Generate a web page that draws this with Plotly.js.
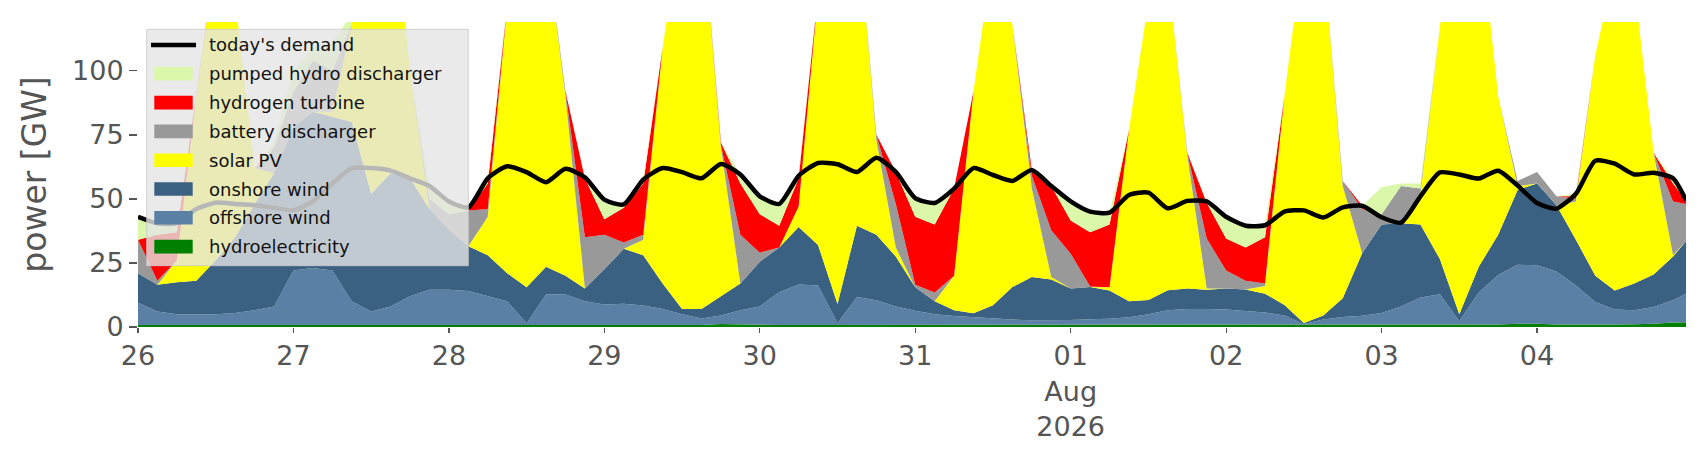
<!DOCTYPE html>
<html>
<head>
<meta charset="utf-8">
<script src="https://cdn.plot.ly/plotly-3.0.1.min.js"></script>
<style>
  html, body { margin: 0; padding: 0; background: #fff; }
  #chart { width: 1706px; height: 460px; }
</style>
</head>
<body>
<div id="chart"></div>
<script>
// 3-hourly samples from 26 Jul 2026 00:00, last one at 4 Aug 23:00
const start = Date.UTC(2026, 6, 26, 0);
const hours = [];
for (let h = 0; h < 240; h += 3) hours.push(h);
hours.push(239);

// GW
const hydro = [
  0.8, 0.8, 0.8, 0.8, 0.8, 0.8, 0.8, 0.8, 0.8, 0.8,
  0.8, 0.8, 0.8, 0.8, 0.8, 0.8, 0.8, 0.8, 0.8, 0.8,
  0.8, 0.8, 0.8, 0.8, 0.8, 0.8, 0.8, 0.8, 0.8, 0.8,
  1.2, 1.0, 0.8, 0.8, 0.8, 0.8, 0.8, 0.8, 0.8, 0.8,
  0.8, 0.8, 0.8, 0.8, 0.8, 0.8, 0.8, 0.8, 0.8, 0.8,
  0.8, 0.8, 0.8, 0.8, 0.8, 0.8, 0.8, 0.8, 0.8, 0.8,
  0.8, 0.8, 0.8, 0.8, 0.8, 0.8, 0.8, 0.8, 0.8, 0.8,
  1.0, 1.3, 1.3, 1.0, 0.9, 0.9, 1.0, 1.1, 1.3, 1.8, 1.9
];
const offshoreWind = [
  8.7, 5.2, 4.2, 4.2, 4.2, 4.7, 5.7, 7.2, 21.2, 22.2,
  21.2, 9.2, 5.2, 7.2, 11.2, 13.7, 13.7, 13.2, 11.2, 9.2,
  0.7, 11.9, 11.9, 9.2, 8.0, 8.3, 7.6, 6.2, 4.2, 2.5,
  3.3, 5.5, 7.2, 12.8, 15.8, 15.4, 0.7, 10.9, 9.6, 7.2,
  5.5, 4.2, 3.5, 3.0, 2.5, 2.1, 1.8, 1.8, 1.9, 2.2,
  2.4, 3.0, 4.2, 5.7, 6.2, 6.2, 6.0, 5.4, 4.9, 3.7,
  0.4, 2.1, 3.1, 3.6, 4.7, 7.2, 10.7, 12.0, 1.4, 12.7,
  19.3, 23.0, 22.8, 20.7, 15.3, 8.9, 5.8, 5.4, 6.5, 8.6, 11.1
];
const onshoreWind = [
  11.5, 10.5, 12.5, 13, 21, 29.5, 41.5, 52, 56, 61,
  60, 70, 46, 52, 46, 31.5, 23.5, 17.5, 16, 11,
  14, 10.8, 7.3, 5, 13.7, 21.4, 19.6, 10, 2, 3.7,
  7.5, 10.5, 17.5, 17.4, 22.4, 15.8, 7.5, 27.8, 25.6, 19.5,
  9.2, 5, 2.2, 1.6, 5.2, 12.7, 16.9, 15.9, 12.3, 12.6,
  11, 6.2, 5.5, 7.8, 8, 7.5, 8.2, 8.4, 7.3, 4.1,
  0.4, 1.6, 7.3, 24.4, 34.5, 32.5, 28.5, 13.7, 2.8, 10,
  15.7, 29.2, 31.9, 25.8, 17.8, 10.2, 7.4, 10.5, 12.7, 17.1, 20.5
];
const solarPV = [
  0, 0, 8.5, 72, 119, 93, 14, 0, 0, 0,
  2, 38, 118, 115, 42, 0, 0, 0, 15, 104,
  149.5, 126.5, 70, 0, 0, 0, 6, 92, 153, 155,
  58, 0, 0, 0, 8, 98, 161, 121.5, 37, 3.5,
  0, 0, 13.5, 86.6, 137.5, 102.4, 34.5, 1, 0, 0,
  1.3, 67, 116.5, 123.7, 52, 0.5, 0, 0, 3, 81.4,
  148.4, 140.5, 43.8, 0, 0, 0, 12, 90.5, 165, 137.5,
  54, 1.5, 0, 0, 15, 86, 126.8, 117, 47.5, 0.5, 0
];
const batteryDischarger = [
  13, 1.5, 0, 0, 0, 0, 0, 10, 14, 20,
  16, 0, 0, 0, 0, 4, 6, 14, 3, 0,
  0, 0, 2, 20, 13.5, 2.5, 2, 0, 0, 0,
  1, 19, 3.5, 0, 0, 0, 0, 0, 2, 17,
  1, 3.5, 0, 0, 0, 0, 5, 18.2, 13.6, 0.2,
  0, 0, 0, 0, 1, 19.5, 7, 3.4, 1, 0,
  0, 0, 2, 17.2, 4, 14.5, 2, 0, 0, 0,
  0, 2, 4.5, 3.5, 1, 0, 0, 0, 0, 21, 14.5
];
const hydrogenTurbine = [
  0, 18, 11, 0, 0, 0, 0, 0, 0, 0,
  0, 0, 0, 0, 0, 0, 0, 0, 10, 0,
  0, 0, 0, 23, 6, 13.5, 20, 0, 0, 0,
  1, 20, 15, 8.5, 11, 0, 0, 0, 0, 12.5,
  26.5, 26.5, 34, 0, 0, 0, 2.3, 17.3, 13, 21.2,
  24.5, 0, 0, 0, 0, 14, 12.5, 13, 18, 0,
  0, 0, 0, 1.3, 0, 0, 0, 0, 0, 0,
  0, 0, 0, 0, 1, 0, 0, 0, 0, 7, 1.5
];
const pumpedHydro = [
  9, 4.5, 3.5, 0, 0, 0, 0, 2, 8, 5,
  11, 4, 0, 0, 0, 5, 5, 1.2, 2, 0,
  0, 0, 0, 0.4, 7.7, 1.3, 1.5, 0, 0, 0,
  0, 3.5, 7, 8.5, 1, 0, 0, 0, 0, 0,
  7.3, 8.4, 0, 0, 0, 0, 0, 0, 7.4, 8,
  4.6, 0, 0, 0, 0, 0.5, 8.5, 8.5, 4.7, 0,
  0, 0, 0, 0, 10.5, 1, 2, 0, 0, 0,
  0, 0, 0, 0, 1, 0, 0, 0, 0, 2, 0
];
const demand = [
  43, 40.5, 40.5, 46, 48.5, 48, 47.5, 46.5, 45.5, 49,
  56, 62, 62, 61, 58, 55, 49, 46.7, 58, 62.7,
  60.4, 56.5, 61.7, 58.4, 49.7, 47.8, 57.5, 62, 60.4, 58,
  63.6, 59.5, 51, 48, 59, 64, 63.5, 60.5, 66, 60.5,
  50.3, 48.4, 54, 62, 59.3, 57, 61.3, 55, 49, 45,
  44.6, 51.5, 52.4, 46.3, 49.2, 49, 43, 39.5, 39.7, 45,
  45.5, 42.7, 46.7, 47.3, 42.8, 40.7, 51, 60.3, 59.5, 57.9,
  61, 55.2, 48.4, 46.2, 52, 64.9, 63.7, 59.5, 60.2, 58, 49.5
];

const dayTicks = ['2026-07-26', '2026-07-27', '2026-07-28', '2026-07-29', '2026-07-30',
                  '2026-07-31', '2026-08-01', '2026-08-02', '2026-08-03', '2026-08-04'];
const dayLabels = ['26', '27', '28', '29', '30', '31', '01<br>Aug<br>2026', '02', '03', '04'];

const pad = n => String(n).padStart(2, '0');
const times = hours.map(h => {
  const d = new Date(start + h * 3600e3);
  return `${d.getUTCFullYear()}-${pad(d.getUTCMonth() + 1)}-${pad(d.getUTCDate())} ${pad(d.getUTCHours())}:00`;
});

// bottom of the stack first
const stack = [
  { name: 'hydroelectricity', y: hydro, color: '#008000' },
  { name: 'offshore wind', y: offshoreWind, color: '#5b80a5' },
  { name: 'onshore wind', y: onshoreWind, color: '#3b6182' },
  { name: 'solar PV', y: solarPV, color: '#ffff00' },
  { name: 'battery discharger', y: batteryDischarger, color: '#999999' },
  { name: 'hydrogen turbine', y: hydrogenTurbine, color: '#ff0000' },
  { name: 'pumped hydro discharger', y: pumpedHydro, color: '#dbf7aa' },
];

const traces = stack.map(s => ({
  x: times, y: s.y, name: s.name,
  type: 'scatter', mode: 'lines', stackgroup: 'supply',
  line: { width: 0 }, fillcolor: s.color, showlegend: false,
}));
traces.push({
  x: times, y: demand, name: "today's demand",
  type: 'scatter', mode: 'lines',
  line: { color: '#000', width: 4.5, shape: 'spline', smoothing: 0.6 },
  showlegend: false,
});

const W = 1706, H = 460;
const M = { l: 138, r: 20, t: 22, b: 133 };
const plotW = W - M.l - M.r, plotH = H - M.t - M.b;
const px = x => (x - M.l) / plotW;
const py = y => 1 - (y - M.t) / plotH;

// matplotlib-style legend box, drawn over the plot
const legendEntries = [{ name: "today's demand", color: '#000', line: true }]
  .concat(stack.slice().reverse());
const shapes = [{
  type: 'rect', xref: 'paper', yref: 'paper', layer: 'above',
  x0: px(146.7), x1: px(468.3), y0: py(265.7), y1: py(29.3),
  fillcolor: 'rgba(229,229,229,0.8)', line: { color: 'rgba(200,200,200,0.8)', width: 1 },
}];
const annotations = [];
legendEntries.forEach((e, i) => {
  const cy = 45 + 28.8 * i;
  if (e.line) {
    shapes.push({
      type: 'line', xref: 'paper', yref: 'paper', layer: 'above',
      x0: px(151), x1: px(196), y0: py(cy), y1: py(cy),
      line: { color: e.color, width: 4.5 },
    });
  } else {
    shapes.push({
      type: 'rect', xref: 'paper', yref: 'paper', layer: 'above',
      x0: px(154.3), x1: px(192.7), y0: py(cy + 6.8), y1: py(cy - 6.8),
      fillcolor: e.color, line: { width: 0 },
    });
  }
  annotations.push({
    xref: 'paper', yref: 'paper', x: px(207), y: py(cy),
    xanchor: 'left', yanchor: 'middle', showarrow: false,
    text: e.name, font: { family: 'DejaVu Sans', size: 18, color: '#111' },
  });
});

const layout = {
  width: W, height: H, margin: M,
  paper_bgcolor: '#fff', plot_bgcolor: '#fff',
  font: { family: 'DejaVu Sans', color: '#555' },
  showlegend: false,
  xaxis: {
    type: 'date', range: [times[0], times[times.length - 1]],
    tickvals: dayTicks, ticktext: dayLabels,
    ticks: 'outside', ticklen: 5, tickwidth: 1.2, tickcolor: '#555',
    tickfont: { size: 27, color: '#555' },
    showgrid: false, zeroline: false, showline: false,
  },
  yaxis: {
    range: [0, 119], tickvals: [0, 25, 50, 75, 100],
    ticks: 'outside', ticklen: 8, tickwidth: 1.5, tickcolor: '#555',
    tickfont: { size: 27, color: '#555' },
    showgrid: false, zeroline: false, showline: false,
    title: { text: 'power [GW]', font: { size: 33, color: '#555' }, standoff: 15 },
  },
  shapes, annotations,
};

Plotly.newPlot('chart', traces, layout, { displayModeBar: false, staticPlot: true });
</script>
</body>
</html>
